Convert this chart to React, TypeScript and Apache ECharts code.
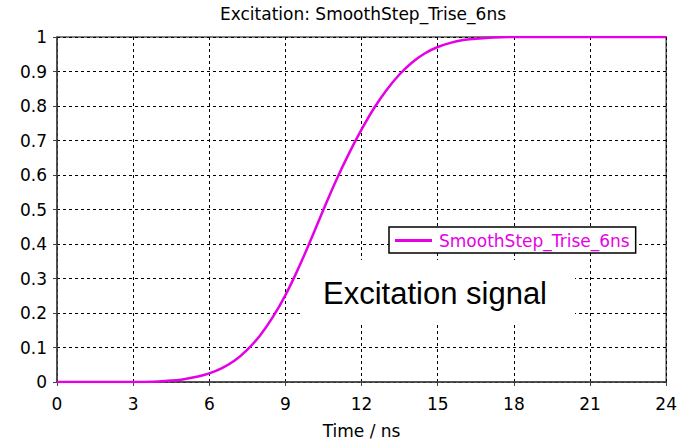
import React, { useEffect, useRef } from "react";
import * as echarts from "echarts";

// Excitation waveform: smooth step with 6 ns rise time
const timeNs: number[] = [
  0, 0.5, 1, 1.5, 2, 2.5, 3, 3.5, 4, 4.5, 5, 5.5, 6, 6.5, 7, 7.5, 8, 8.5, 9, 9.5,
  10, 10.5, 11, 11.5, 12, 12.5, 13, 13.5, 14, 14.5, 15, 15.5, 16, 16.5, 17, 17.5,
  18, 19, 20, 21, 22, 23, 24,
];
const amplitude: number[] = [
  0, 0, 0, 0, 0, 0, 0, 0.0003, 0.0015, 0.004, 0.008, 0.015, 0.025, 0.04, 0.062,
  0.094, 0.135, 0.188, 0.252, 0.328, 0.412, 0.5, 0.585, 0.662, 0.732, 0.795,
  0.848, 0.892, 0.927, 0.953, 0.971, 0.983, 0.991, 0.995, 0.998, 0.9995, 1, 1,
  1, 1, 1, 1, 1,
];
const seriesName = "SmoothStep_Trise_6ns";
const chartTitle = "Excitation: SmoothStep_Trise_6ns";
const xAxisName = "Time / ns";
const annotation = "Excitation signal";

const MAGENTA = "#e600e6";
const FONT = "DejaVu Sans";
const FS = 17;

export default function App() {
  const ref = useRef<HTMLDivElement>(null);

  useEffect(() => {
    if (!ref.current) return;
    const chart = echarts.init(ref.current, undefined, { renderer: "svg" });
    const points = timeNs.map((t, i) => [t, amplitude[i]]);

    chart.setOption({
      animation: false,
      backgroundColor: "#fff",
      grid: {
        left: 57,
        right: 10,
        top: 37,
        bottom: 63,
        show: true,
        borderColor: "#555",
        borderWidth: 1.5,
      },
      xAxis: {
        type: "value",
        min: 0,
        max: 24,
        interval: 3,
        name: xAxisName,
        nameLocation: "middle",
        nameGap: 40,
        nameTextStyle: { color: "#000", fontFamily: FONT, fontSize: FS },
        axisLine: { show: true, lineStyle: { color: "#444", width: 1.5 } },
        axisTick: { show: true, length: 4, lineStyle: { color: "#444" } },
        axisLabel: { color: "#000", fontFamily: FONT, fontSize: FS, margin: 13 },
        splitLine: {
          show: true,
          lineStyle: { color: "#000", type: [3, 3], width: 1 },
        },
      },
      yAxis: {
        type: "value",
        min: 0,
        max: 1,
        interval: 0.1,
        axisLine: { show: true, lineStyle: { color: "#444", width: 1.5 } },
        axisTick: { show: true, length: 4, lineStyle: { color: "#444" } },
        axisLabel: {
          color: "#000",
          fontFamily: FONT,
          fontSize: FS,
          margin: 10,
          formatter: (v: number) => String(+v.toFixed(1)),
        },
        splitLine: {
          show: true,
          lineStyle: { color: "#000", type: [3, 3], width: 1 },
        },
      },
      legend: {
        left: 389,
        top: 227,
        orient: "horizontal",
        backgroundColor: "#fff",
        borderColor: "#000",
        borderWidth: 1.5,
        padding: [5, 6, 4, 6],
        itemWidth: 37,
        itemHeight: 3,
        itemGap: 0,
        data: [{ name: seriesName, icon: "rect" }],
        textStyle: { color: MAGENTA, fontFamily: FONT, fontSize: FS, padding: [0, 0, 0, 2] },
      },
      graphic: [
        {
          type: "text",
          x: 363,
          y: 5,
          style: {
            text: chartTitle,
            fill: "#000",
            font: `${FS}px "${FONT}"`,
            textAlign: "center",
            textVerticalAlign: "top",
          },
        },
        {
          type: "rect",
          z: 1,
          shape: { x: 303, y: 260, width: 272, height: 62 },
          style: { fill: "#fff" },
        },
        {
          type: "text",
          z: 1,
          x: 323,
          y: 293,
          style: {
            text: annotation,
            fill: "#000",
            font: `31px "Liberation Sans"`,
            textAlign: "left",
            textVerticalAlign: "middle",
          },
        },
      ],
      series: [
        {
          name: seriesName,
          type: "line",
          data: points,
          smooth: 0.4,
          showSymbol: false,
          symbol: "none",
          z: 3,
          lineStyle: { color: MAGENTA, width: 2.5 },
          itemStyle: { color: MAGENTA },
        },
      ],
    });

    return () => chart.dispose();
  }, []);

  return (
    <div
      ref={ref}
      style={{ position: "fixed", left: 0, top: 0, width: 680, height: 445 }}
    />
  );
}
